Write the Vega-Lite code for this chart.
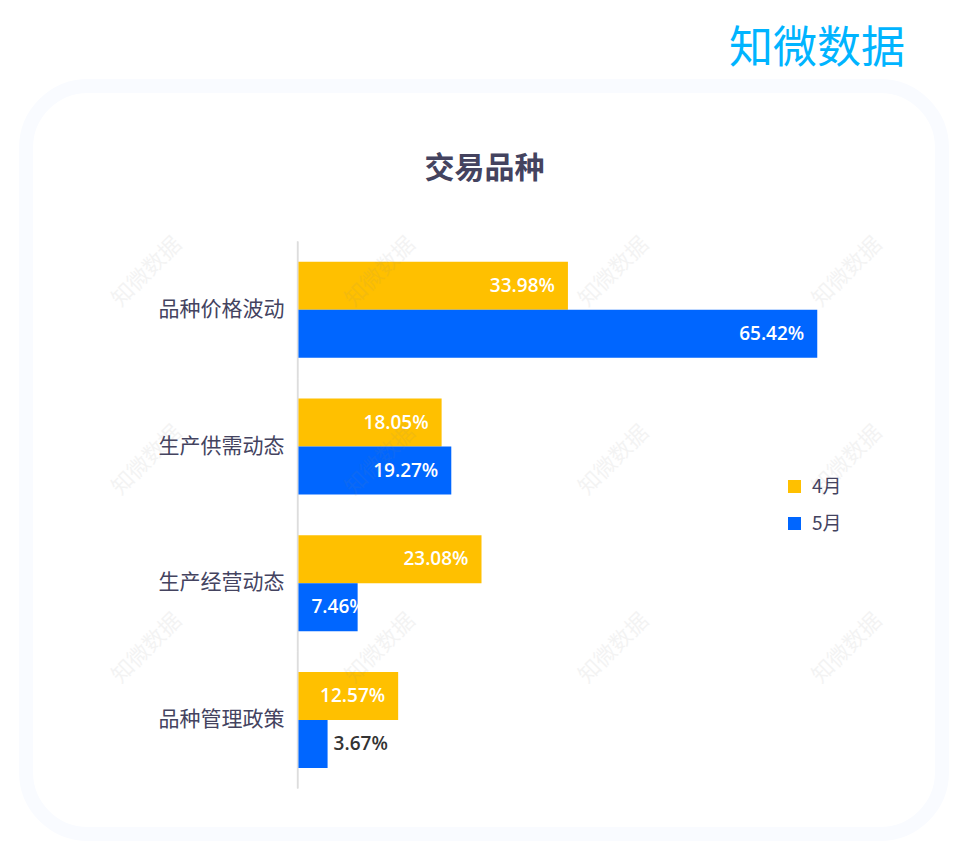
{
  "$schema": "https://vega.github.io/schema/vega-lite/v6.json",
  "width": 916,
  "height": 748,
  "autosize": "none",
  "padding": {"left": 26, "top": 86, "right": 18, "bottom": 29},
  "background": "#ffffff",
  "view": {"fill": "#ffffff", "stroke": "#f9fbff", "strokeWidth": 14, "cornerRadius": 62},
  "title": {
    "text": "知微数据",
    "anchor": "end",
    "frame": "group",
    "font": "Noto Sans CJK SC",
    "fontSize": 44,
    "fontWeight": "normal",
    "color": "#00b4ff",
    "offset": 14,
    "dx": -37
  },
  "datasets": {
    "bars": [
      {"品种": "品种价格波动", "月份": "4月", "占比": 0.3398},
      {"品种": "品种价格波动", "月份": "5月", "占比": 0.6542},
      {"品种": "生产供需动态", "月份": "4月", "占比": 0.1805},
      {"品种": "生产供需动态", "月份": "5月", "占比": 0.1927},
      {"品种": "生产经营动态", "月份": "4月", "占比": 0.2308},
      {"品种": "生产经营动态", "月份": "5月", "占比": 0.0746},
      {"品种": "品种管理政策", "月份": "4月", "占比": 0.1257},
      {"品种": "品种管理政策", "月份": "5月", "占比": 0.0367}
    ],
    "marks": [
      {"列": "a", "行": "r1"}, {"列": "b", "行": "r1"}, {"列": "c", "行": "r1"}, {"列": "d", "行": "r1"},
      {"列": "a", "行": "r2"}, {"列": "b", "行": "r2"}, {"列": "c", "行": "r2"}, {"列": "d", "行": "r2"},
      {"列": "a", "行": "r3"}, {"列": "b", "行": "r3"}, {"列": "c", "行": "r3"}, {"列": "d", "行": "r3"}
    ]
  },
  "resolve": {"scale": {"x": "independent", "y": "independent"}, "axis": {"x": "independent", "y": "independent"}},
  "layer": [
    {
      "data": {"name": "bars"},
      "encoding": {
        "x": {
          "type": "quantitative",
          "scale": {"domain": [-0.3436, 0.8115], "nice": false, "zero": false},
          "axis": {
            "orient": "top",
            "title": "交易品种",
            "titleFont": "Noto Sans CJK SC",
            "titleFontSize": 30,
            "titleFontWeight": "bold",
            "titleColor": "#44435f",
            "titlePadding": -97,
            "domain": false,
            "ticks": false,
            "labels": false,
            "grid": false
          }
        },
        "y": {
          "field": "品种",
          "type": "nominal",
          "sort": null,
          "scale": {
            "domain": ["品种价格波动", "生产供需动态", "生产经营动态", "品种管理政策"],
            "paddingInner": 0,
            "paddingOuter": 0.735,
            "align": 0.7735
          },
          "axis": {
            "orient": "left",
            "offset": -272,
            "title": null,
            "domain": false,
            "ticks": false,
            "grid": false,
            "labelPadding": 14,
            "labelFont": "Noto Sans CJK SC",
            "labelFontSize": 21,
            "labelColor": "#44435f"
          }
        }
      },
      "layer": [
        {
          "mark": {"type": "bar", "color": "#dddddd"},
          "encoding": {
            "x": {"datum": -0.002},
            "x2": {"datum": 0}
          }
        },
        {
          "mark": {"type": "bar"},
          "encoding": {
            "x": {"field": "占比"},
            "yOffset": {
              "field": "月份",
              "scale": {"domain": ["4月", "5月"], "paddingInner": 0, "paddingOuter": 0.424}
            },
            "color": {
              "field": "月份",
              "type": "nominal",
              "scale": {"domain": ["4月", "5月"], "range": ["#ffc000", "#0066ff"]},
              "legend": {
                "orient": "none",
                "legendX": 759,
                "legendY": 391,
                "title": null,
                "symbolType": "square",
                "symbolSize": 170,
                "symbolStrokeWidth": 0,
                "labelFont": "Noto Sans CJK SC",
                "labelFontSize": 19,
                "labelColor": "#44435f",
                "labelOffset": 8,
                "rowPadding": 17
              }
            }
          }
        },
        {
          "transform": [{"filter": "datum['占比'] > 0.1"}],
          "mark": {"type": "text", "align": "right", "dx": -13, "font": "Open Sans", "fontSize": 19, "fontWeight": 600, "color": "#ffffff"},
          "encoding": {
            "x": {"field": "占比"},
            "yOffset": {"field": "月份"},
            "text": {"field": "占比", "type": "quantitative", "format": ".2%"}
          }
        },
        {
          "transform": [{"filter": "datum['占比'] > 0.05 && datum['占比'] < 0.1"}],
          "mark": {"type": "text", "align": "left", "dx": 13, "font": "Open Sans", "fontSize": 19, "fontWeight": 600, "color": "#ffffff"},
          "encoding": {
            "x": {"datum": 0},
            "yOffset": {"field": "月份"},
            "text": {"field": "占比", "type": "quantitative", "format": ".2%"}
          }
        },
        {
          "transform": [{"filter": "datum['占比'] < 0.05"}],
          "mark": {"type": "text", "align": "left", "dx": 6, "font": "Open Sans", "fontSize": 19, "fontWeight": 600, "color": "#333333"},
          "encoding": {
            "x": {"field": "占比"},
            "yOffset": {"field": "月份"},
            "text": {"field": "占比", "type": "quantitative", "format": ".2%"}
          }
        }
      ]
    },
    {
      "data": {"name": "marks"},
      "mark": {"type": "text", "angle": -45, "font": "Noto Sans CJK SC", "fontSize": 22, "color": "#888888", "opacity": 0.09, "text": "知微数据"},
      "encoding": {
        "x": {
          "field": "列",
          "type": "nominal",
          "axis": null,
          "scale": {"type": "point", "padding": 0.462, "align": 0.56}
        },
        "y": {
          "field": "行",
          "type": "nominal",
          "axis": null,
          "scale": {"type": "point", "padding": 0.987, "align": 0.5}
        }
      }
    }
  ]
}
